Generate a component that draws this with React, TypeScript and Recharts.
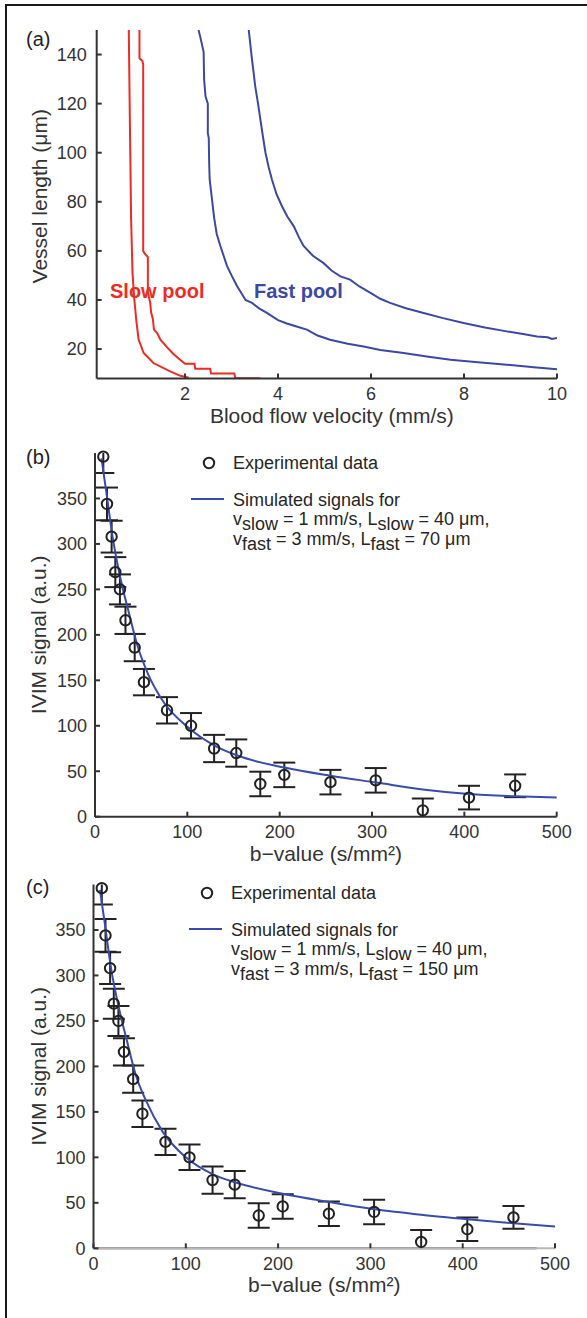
import React from 'react';
import { ComposedChart, LineChart, Line, Scatter, ErrorBar, XAxis, YAxis, Legend, ReferenceLine } from 'recharts';

const FONT = '"Liberation Sans", Arial, Helvetica, sans-serif';
const INK = '#333333';
const RED = '#ee2b22';
const BLUE = '#3b48a8';
const FIT_BLUE = '#3a4bb0';

// (a) velocity (mm/s) / vessel length (µm) boundaries
const slowInnerV = [0.79, 0.81, 0.84, 0.87, 0.91, 0.95, 1.0, 1.11, 1.32, 1.68, 1.9, 2.08];
const slowInnerL = [150, 118, 73, 51, 40, 32, 24, 18.4, 14.3, 10.9, 9.1, 8.3];

const slowOuterV = [1.02, 1.02, 1.08, 1.1, 1.1, 1.13, 1.2, 1.2, 1.25, 1.27, 1.31, 1.33, 1.4, 1.47, 1.6, 1.75, 1.9, 2.0, 2.2, 2.22, 2.54, 2.56, 3.06, 3.08, 3.62];
const slowOuterL = [150, 138.5, 137.5, 136, 60, 59, 57.5, 43, 39, 35, 32, 28, 26.5, 23.8, 21, 18, 15.5, 14, 14, 12, 12, 10, 10, 8.1, 8.1];

const fastInnerV = [2.29, 2.33, 2.4, 2.41, 2.44, 2.49, 2.49, 2.51, 2.52, 2.53, 2.58, 2.61, 2.63, 2.68, 2.76, 2.83, 2.9, 3.0, 3.12, 3.22, 3.3, 3.44, 3.6, 3.76, 4.0, 4.19, 4.4, 4.62, 4.85, 5.12, 5.5, 5.84, 6.2, 6.7, 7.2, 7.71, 8.3, 8.92, 9.5, 10];
const fastInnerL = [150, 147, 141, 130, 123, 120, 108, 106, 95, 89, 81, 76, 73, 67, 62, 58, 54, 50, 45.6, 42.5, 40, 38.8, 36.5, 34.7, 31.8, 30.4, 29.2, 27.9, 25.5, 23.8, 22.2, 21, 19.6, 18.4, 17, 15.6, 14.6, 13.6, 12.6, 11.8];

const fastOuterV = [3.37, 3.44, 3.51, 3.57, 3.62, 3.68, 3.73, 3.8, 3.87, 3.97, 4.09, 4.2, 4.34, 4.45, 4.55, 4.75, 4.98, 5.15, 5.34, 5.55, 5.75, 5.98, 6.2, 6.41, 6.75, 7.13, 7.55, 7.99, 8.45, 8.92, 9.3, 9.57, 9.8, 9.89, 10];
const fastOuterL = [150, 138, 127, 120, 113.6, 106, 100, 94, 89, 83, 78, 74, 70, 65.5, 62, 58, 55, 52, 49.6, 48.3, 45.5, 43, 40.5, 38.8, 36.6, 34.7, 32.6, 30.6, 28.8, 27.2, 26, 25.1, 24.8, 24.1, 24.5];

const velocityTicks = [2, 4, 6, 8, 10];
const lengthTicks = [20, 40, 60, 80, 100, 120, 140];

// (b), (c) experimental IVIM signal
const expB = [9, 13, 18, 22, 27, 33, 43, 53, 78, 104, 129, 153, 179, 205, 255, 304, 355, 405, 455];
const expSignal = [396, 344, 308, 269, 250, 216, 186, 148, 117, 100, 75, 70, 36, 46, 38, 40, 7, 21, 34];
const expErr = [18, 18, 17.5, 16.5, 16.5, 15, 15, 14.5, 14.5, 14, 15, 15, 13.5, 13.5, 13.5, 13.5, 13, 13, 12.5];

// simulated curves
const fitB = [7, 12, 19, 28, 36, 46, 57, 75, 100, 130, 155, 205, 255, 305, 355, 405, 455, 500];
const fitSignalB = [394, 359, 308, 260, 227, 188, 158, 125, 99, 78, 67, 54, 45, 37.5, 30, 25, 22.5, 21];
const fitSignalC = [394, 359, 308, 262, 229, 190, 162, 128, 100, 81, 72, 60, 51, 43, 37, 32, 27.5, 24];

const bTicks = [0, 100, 200, 300, 400, 500];
const signalTicks = [0, 50, 100, 150, 200, 250, 300, 350];

const curve = (v: number[], l: number[]) => v.map((x, i) => ({ v: x, L: l[i] }));
const expData = expB.map((b, i) => ({ b, signal: expSignal[i], err: expErr[i] }));
const fitData = (s: number[]) => fitB.map((b, i) => ({ b, fit: s[i] }));

const tickStyle = { fontSize: 18, fill: INK };
const axisLine = { stroke: INK, strokeWidth: 2 };

function YTitle(props: any) {
  const vb = props.viewBox || { y: 0, height: 0 };
  const cx = props.cx;
  const cy = vb.y + vb.height / 2 + (props.shift || 0);
  return (
    <text x={cx} y={cy} transform={`rotate(-90 ${cx} ${cy})`} textAnchor="middle" dominantBaseline="central" fontSize={21} fill={INK}>
      {props.text}
    </text>
  );
}

function XTitle(props: any) {
  const vb = props.viewBox || { x: 0, y: 0, width: 0 };
  const x = vb.x + vb.width / 2 + (props.shift || 0);
  return (
    <text x={x} y={vb.y + 44} textAnchor="middle" fontSize={21} fill={INK}>
      {props.text}
    </text>
  );
}

function Ring(p: any) {
  return <circle cx={p.cx} cy={p.cy} r={5.2} fill="none" stroke="#222" strokeWidth={2} />;
}

function PoolLabels({ payload }: any) {
  const slow = (payload || []).find((p: any) => p.dataKey === 'L' && p.color === RED);
  const fast = (payload || []).find((p: any) => p.dataKey === 'L' && p.color === BLUE);
  const base = { position: 'absolute' as const, top: 279, fontSize: 20, lineHeight: '24px', fontWeight: 700, whiteSpace: 'nowrap' as const };
  return (
    <div style={{ position: 'relative', width: 587, height: 430 }}>
      <div style={{ ...base, left: 110, color: RED }}>{slow ? slow.value : 'Slow pool'}</div>
      <div style={{ ...base, left: 254, color: BLUE }}>{fast ? fast.value : 'Fast pool'}</div>
    </div>
  );
}

function SignalLegend({ payload, lFast }: any) {
  const exp = (payload || []).find((p: any) => p.dataKey === 'signal');
  const sim = (payload || []).find((p: any) => p.dataKey === 'fit');
  const row = (top: number) => ({ position: 'absolute' as const, left: 53, top: top - 11, lineHeight: '22px', whiteSpace: 'nowrap' as const });
  const sub = { position: 'relative' as const, top: 5 };
  return (
    <div style={{ position: 'relative', width: 340, height: 100, fontSize: 18, color: '#262626' }}>
      <svg width={50} height={60} style={{ position: 'absolute', left: 0, top: 0 }}>
        <circle cx={29} cy={10} r={5.2} fill="none" stroke="#222" strokeWidth={2} />
        <line x1={11} x2={44} y1={46} y2={46} stroke={FIT_BLUE} strokeWidth={2} />
      </svg>
      <div style={row(10)}>{exp ? exp.value : 'Experimental data'}</div>
      <div style={row(46.5)}>{sim ? sim.value : 'Simulated signals for'}</div>
      <div style={row(66)}>
        v<span style={sub}>slow</span> = 1 mm/s, L<span style={sub}>slow</span> = 40 μm,
      </div>
      <div style={row(86)}>
        v<span style={sub}>fast</span> = 3 mm/s, L<span style={sub}>fast</span> = {lFast} μm
      </div>
    </div>
  );
}

function SignalPanel({ top, height, margin, fit, lFast, legendPos, greyTail, cls }: any) {
  return (
    <div className={cls} style={{ position: 'absolute', left: 0, top }}>
      <ComposedChart width={587} height={height} margin={margin}>
        <XAxis
          dataKey="b"
          type="number"
          domain={[0, 500]}
          ticks={bTicks}
          allowDataOverflow
          height={40}
          tick={tickStyle}
          tickSize={-5}
          tickMargin={14}
          tickLine={{ stroke: INK, strokeWidth: 2 }}
          axisLine={greyTail ? { stroke: '#b8b8b8', strokeWidth: 2 } : axisLine}
          label={<XTitle text="b−value (s/mm²)" />}
        />
        <YAxis
          type="number"
          domain={[0, 400]}
          ticks={signalTicks}
          allowDataOverflow
          width={60}
          tick={tickStyle}
          tickSize={-5}
          tickMargin={13}
          tickLine={{ stroke: INK, strokeWidth: 2 }}
          axisLine={axisLine}
          label={<YTitle text="IVIM signal (a.u.)" cx={39} />}
        />
        {greyTail && <ReferenceLine segment={[{ x: 0, y: 0 }, { x: 480, y: 0 }]} stroke={INK} strokeWidth={2} />}
        <Scatter name="Experimental data" data={expData} dataKey="signal" shape={Ring} isAnimationActive={false}>
          <ErrorBar dataKey="err" direction="y" width={11} stroke="#222" strokeWidth={2} isAnimationActive={false} />
        </Scatter>
        <Line name="Simulated signals for" data={fitData(fit)} dataKey="fit" type="monotone" stroke={FIT_BLUE} strokeWidth={2} dot={false} isAnimationActive={false} />
        <Legend
          layout="horizontal"
          verticalAlign="middle"
          align="center"
          wrapperStyle={{ left: legendPos[0], top: legendPos[1], right: 'auto', bottom: 'auto', width: 340 }}
          content={<SignalLegend lFast={lFast} />}
        />
      </ComposedChart>
    </div>
  );
}

const letter = (top: number) => ({ position: 'absolute' as const, left: 26, top, fontSize: 20, lineHeight: '24px', color: '#222' });

// markers may poke out of the frame; error bars are cut at the plot frame
const clipCss = `
.panel-b [clip-path], .panel-c [clip-path] { clip-path: none; }
.panel-b [class*="errorBar"] { clip-path: url(#plot-clip-b); }
.panel-c [class*="errorBar"] { clip-path: url(#plot-clip-c); }
`;

export default function App() {
  return (
    <div style={{ position: 'absolute', left: 0, top: 0, width: 587, height: 1318, overflow: 'hidden', background: '#fff', fontFamily: FONT }}>
      <style>{clipCss}</style>
      <svg width={0} height={0} style={{ position: 'absolute' }}>
        <defs>
          <clipPath id="plot-clip-b" clipPathUnits="userSpaceOnUse">
            <rect x={95} y={23} width={462} height={364} />
          </clipPath>
          <clipPath id="plot-clip-c" clipPathUnits="userSpaceOnUse">
            <rect x={93.5} y={14.5} width={462} height={364} />
          </clipPath>
        </defs>
      </svg>
      <div style={{ position: 'absolute', left: 5, top: 4, width: 620, height: 1400, borderLeft: '2px solid #1a1a1a', borderTop: '2px solid #1a1a1a' }} />

      <div style={{ position: 'absolute', left: 0, top: 0 }}>
        <LineChart width={587} height={430} margin={{ top: 30, right: 30, bottom: 11.5, left: 36.7 }}>
          <XAxis
            dataKey="v"
            type="number"
            domain={[0.1, 10]}
            ticks={velocityTicks}
            allowDataOverflow
            height={40}
            tick={tickStyle}
            tickSize={-5}
            tickMargin={14}
            tickLine={{ stroke: INK, strokeWidth: 2 }}
            axisLine={axisLine}
            label={<XTitle text="Blood flow velocity (mm/s)" shift={5} />}
          />
          <YAxis
            type="number"
            domain={[8, 150]}
            ticks={lengthTicks}
            allowDataOverflow
            width={60}
            tick={tickStyle}
            tickSize={-5}
            tickMargin={15}
            tickLine={{ stroke: INK, strokeWidth: 2 }}
            axisLine={axisLine}
            label={<YTitle text="Vessel length (μm)" cx={39} shift={-8} />}
          />
          <Line name="Slow pool" data={curve(slowInnerV, slowInnerL)} dataKey="L" type="linear" stroke={RED} strokeWidth={2} dot={false} isAnimationActive={false} />
          <Line name="Slow pool outer" legendType="none" data={curve(slowOuterV, slowOuterL)} dataKey="L" type="linear" stroke={RED} strokeWidth={2} dot={false} isAnimationActive={false} />
          <Line name="Fast pool" data={curve(fastInnerV, fastInnerL)} dataKey="L" type="linear" stroke={BLUE} strokeWidth={2} dot={false} isAnimationActive={false} />
          <Line name="Fast pool outer" legendType="none" data={curve(fastOuterV, fastOuterL)} dataKey="L" type="linear" stroke={BLUE} strokeWidth={2} dot={false} isAnimationActive={false} />
          <Legend
            layout="horizontal"
            verticalAlign="middle"
            align="center"
            wrapperStyle={{ left: 0, top: 0, right: 'auto', bottom: 'auto', width: 587 }}
            content={<PoolLabels />}
          />
        </LineChart>
      </div>

      <SignalPanel cls="panel-b" top={430} height={440} margin={{ top: 23, right: 30.3, bottom: 13.3, left: 35 }} fit={fitSignalB} lFast={70} legendPos={[180, 23.3]} />
      <SignalPanel cls="panel-c" top={870} height={448} margin={{ top: 14.5, right: 32, bottom: 29.7, left: 33.5 }} fit={fitSignalC} lFast={150} legendPos={[178, 13.3]} greyTail />

      <div style={letter(27)}>(a)</div>
      <div style={letter(444.5)}>(b)</div>
      <div style={letter(875)}>(c)</div>
    </div>
  );
}
